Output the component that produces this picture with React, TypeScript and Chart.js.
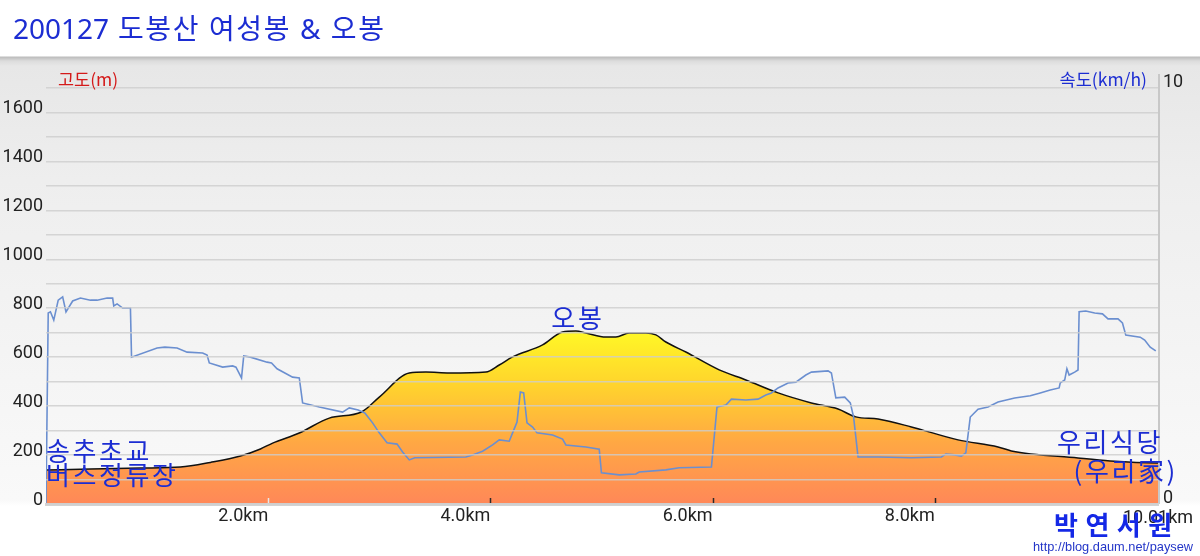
import React, { useEffect, useRef } from 'react';
import { Chart, registerables } from 'chart.js';

Chart.register(...registerables);

// ---- data ----
const TITLE = '200127 도봉산 여성봉 & 오봉';
const ELEV_TITLE = '고도(m)';
const SPEED_TITLE = '속도(km/h)';

const elevKm = [0.0, 0.4, 0.85, 1.21, 1.48, 1.75, 1.93, 2.04, 2.28, 2.55, 2.84, 3.0, 3.27, 3.42, 3.63, 3.96, 4.08, 4.2, 4.47, 4.65, 4.77, 4.86, 5.04, 5.13, 5.25, 5.4, 5.49, 5.58, 5.76, 6.06, 6.3, 6.59, 6.89, 7.13, 7.29, 7.49, 7.79, 8.21, 8.57, 8.69, 9.29, 9.58, 9.99, 10.01];
const elevM = [139, 143, 147, 151, 170, 196, 225, 249, 290, 351, 376, 437, 535, 539, 535, 539, 568, 601, 650, 703, 707, 699, 682, 682, 699, 699, 691, 662, 621, 548, 507, 454, 413, 388, 356, 347, 315, 262, 233, 217, 188, 176, 168, 168];

const speedKm = [0.0, 0.02, 0.04, 0.07, 0.11, 0.15, 0.18, 0.24, 0.31, 0.4, 0.46, 0.55, 0.6, 0.61, 0.64, 0.69, 0.76, 0.77, 1.0, 1.07, 1.18, 1.27, 1.41, 1.45, 1.47, 1.59, 1.68, 1.71, 1.76, 1.78, 1.84, 1.99, 2.03, 2.08, 2.22, 2.28, 2.31, 2.46, 2.67, 2.73, 2.81, 2.87, 2.94, 3.0, 3.07, 3.16, 3.21, 3.27, 3.32, 3.78, 3.84, 3.93, 4.02, 4.08, 4.17, 4.2, 4.24, 4.27, 4.3, 4.33, 4.38, 4.42, 4.56, 4.65, 4.68, 4.86, 4.98, 5.0, 5.16, 5.31, 5.34, 5.58, 5.7, 5.99, 6.04, 6.12, 6.17, 6.3, 6.41, 6.48, 6.53, 6.59, 6.68, 6.75, 6.84, 6.89, 7.04, 7.07, 7.11, 7.19, 7.24, 7.27, 7.31, 7.49, 7.79, 8.06, 8.1, 8.18, 8.24, 8.28, 8.32, 8.39, 8.48, 8.57, 8.72, 8.86, 8.95, 9.04, 9.12, 9.13, 9.17, 9.19, 9.21, 9.26, 9.29, 9.3, 9.36, 9.44, 9.51, 9.56, 9.65, 9.69, 9.72, 9.85, 9.89, 9.94, 9.99];
const speedKmh = [0.0, 4.59, 4.62, 4.42, 4.9, 4.98, 4.62, 4.88, 4.95, 4.9, 4.9, 4.95, 4.95, 4.76, 4.81, 4.71, 4.71, 3.53, 3.75, 3.77, 3.75, 3.65, 3.63, 3.58, 3.39, 3.29, 3.32, 3.29, 3.03, 3.56, 3.53, 3.41, 3.39, 3.25, 3.05, 3.03, 2.43, 2.33, 2.21, 2.31, 2.26, 2.19, 1.95, 1.71, 1.47, 1.44, 1.25, 1.06, 1.11, 1.13, 1.18, 1.27, 1.42, 1.54, 1.51, 1.71, 1.97, 2.69, 2.67, 1.95, 1.85, 1.71, 1.66, 1.56, 1.42, 1.37, 1.32, 0.75, 0.7, 0.72, 0.77, 0.82, 0.87, 0.89, 2.33, 2.38, 2.52, 2.5, 2.52, 2.62, 2.67, 2.79, 2.91, 2.93, 3.1, 3.17, 3.2, 3.15, 2.55, 2.57, 2.43, 2.09, 1.13, 1.13, 1.11, 1.13, 1.2, 1.18, 1.15, 1.23, 2.09, 2.28, 2.33, 2.45, 2.55, 2.6, 2.67, 2.74, 2.79, 2.91, 2.98, 3.25, 3.1, 3.17, 3.22, 4.62, 4.64, 4.59, 4.57, 4.45, 4.45, 4.35, 4.06, 4.01, 3.94, 3.77, 3.68];

const xTickKm = [2, 4, 6, 8];
const xEndKm = 10.01;
const elevGridM = [0, 100, 200, 300, 400, 500, 600, 700, 800, 900, 1000, 1100, 1200, 1300, 1400, 1500, 1600, 1700];
const elevLabelM = [0, 200, 400, 600, 800, 1000, 1200, 1400, 1600];
const speedTicks = [0, 10];

const startPlace = ['송추초교', '버스정류장'];
const peakPlace = '오봉';
const endPlace = ['우리식당', '(우리家)'];
const WATERMARK = '박 연 서 원';
const WATERMARK_URL = 'http://blog.daum.net/paysew';

const KFONT = '"Noto Sans CJK KR", "Noto Sans", sans-serif';
const BLUE = '#1c2dd2';

const decor = {
  id: 'decor',
  afterDatasetsDraw(chart: any) {
    const ctx = chart.ctx;
    const ca = chart.chartArea;
    const xs = chart.scales.x;
    ctx.save();
    ctx.strokeStyle = '#c8c8c8';
    ctx.lineWidth = 2;
    ctx.beginPath();
    ctx.moveTo(ca.right + 1, ca.top - 14);
    ctx.lineTo(ca.right + 1, ca.bottom);
    ctx.stroke();
    xTickKm.forEach((v, i) => {
      const px = Math.round(xs.getPixelForValue(v)) + 0.5;
      ctx.strokeStyle = i === 0 ? '#e9e9e9' : '#2a2a2a';
      ctx.lineWidth = 1.5;
      ctx.beginPath();
      ctx.moveTo(px, ca.bottom - 6);
      ctx.lineTo(px, ca.bottom);
      ctx.stroke();
    });
    ctx.restore();
  },
  afterDraw(chart: any) {
    const ctx = chart.ctx;
    const ca = chart.chartArea;
    const xs = chart.scales.x;
    ctx.save();
    ctx.textBaseline = 'alphabetic';
    // title
    ctx.fillStyle = BLUE;
    ctx.textAlign = 'left';
    ctx.font = '28px "Noto Sans", "Noto Sans CJK KR", sans-serif';
    const cut = TITLE.indexOf(' ');
    const head = TITLE.slice(0, cut);
    ctx.fillText(head, 13, 39);
    const hw = ctx.measureText(head).width;
    ctx.letterSpacing = '1.6px';
    ctx.fillText(TITLE.slice(cut), 13 + hw, 39);
    ctx.letterSpacing = '0px';
    // axis titles
    ctx.font = '17.5px ' + KFONT;
    ctx.fillStyle = '#d41a1a';
    ctx.fillText(ELEV_TITLE, 58, 86);
    ctx.fillStyle = BLUE;
    ctx.textAlign = 'right';
    ctx.fillText(SPEED_TITLE, 1147, 86);
    // last x label
    ctx.fillStyle = '#222';
    ctx.textAlign = 'center';
    ctx.font = '18px Roboto';
    ctx.fillText(xEndKm.toFixed(2) + 'km', xs.getPixelForValue(xEndKm), 523);
    // place annotations
    ctx.fillStyle = BLUE;
    ctx.font = '26px ' + KFONT;
    ctx.letterSpacing = '2.6px';
    ctx.textAlign = 'left';
    ctx.fillText(startPlace[0], ca.left, 461);
    ctx.fillText(startPlace[1], ca.left, 485);
    const peakIdx = elevM.indexOf(Math.max(...elevM));
    ctx.textAlign = 'center';
    ctx.fillText(peakPlace, xs.getPixelForValue(elevKm[peakIdx]) + 2, 328);
    ctx.textAlign = 'right';
    ctx.fillText(endPlace[0], ca.right + 5, 452);
    ctx.fillText(endPlace[1], ca.right + 20, 481);
    // watermark
    ctx.textAlign = 'left';
    ctx.letterSpacing = '0.8px';
    ctx.fillStyle = '#1428e6';
    ctx.font = 'bold 26px ' + KFONT;
    ctx.fillText(WATERMARK, 1054, 535);
    ctx.letterSpacing = '0px';
    ctx.fillStyle = '#2436c8';
    ctx.font = '12.8px "Liberation Sans", sans-serif';
    ctx.fillText(WATERMARK_URL, 1033, 551);
    ctx.restore();
  },
};

export default function App() {
  const ref = useRef<HTMLCanvasElement>(null);
  useEffect(() => {
    document.body.style.margin = '0';
    const elevData = elevKm.map((k, i) => ({ x: k, y: elevM[i] }));
    const speedData = speedKm.map((k, i) => ({ x: k, y: speedKmh[i] }));
    const peak = Math.max(...elevM);
    const chart = new Chart(ref.current as HTMLCanvasElement, {
      type: 'line',
      data: {
        datasets: [
          {
            label: '속도',
            data: speedData,
            yAxisID: 'y2',
            borderColor: '#6b8fd0',
            borderWidth: 1.6,
            pointRadius: 0,
            fill: false,
            tension: 0,
          },
          {
            label: '고도',
            data: elevData,
            yAxisID: 'y',
            borderColor: '#111',
            borderWidth: 1.5,
            pointRadius: 0,
            cubicInterpolationMode: 'monotone',
            fill: 'start',
            backgroundColor: (c: any) => {
              const ch = c.chart;
              const ca = ch.chartArea;
              if (!ca) return '#ffb040';
              const ys = ch.scales.y;
              const g = ch.ctx.createLinearGradient(0, ys.getPixelForValue(peak), 0, ys.getPixelForValue(0));
              g.addColorStop(0, '#fff826');
              g.addColorStop(0.3, '#ffd52c');
              g.addColorStop(0.65, '#ffa744');
              g.addColorStop(1, '#ff8858');
              return g;
            },
          },
        ],
      },
      options: {
        responsive: false,
        animation: false,
        layout: { padding: { top: 88, left: 0, right: 0, bottom: 0 } },
        plugins: { legend: { display: false }, tooltip: { enabled: false }, title: { display: false } },
        scales: {
          x: {
            type: 'linear',
            min: 0,
            max: xEndKm,
            afterBuildTicks: (s: any) => { s.ticks = xTickKm.map((v) => ({ value: v })); },
            afterFit: (s: any) => { s.height = 52; },
            grid: { display: false, drawTicks: false },
            border: { display: true, color: '#d3d3d3', width: 3, z: 1 },
            ticks: {
              align: 'end',
              padding: 2,
              color: '#222',
              font: { family: 'Roboto', size: 18 },
              maxRotation: 0,
              autoSkip: false,
              callback: (v: any) => Number(v).toFixed(1) + 'km',
            },
          },
          y: {
            position: 'left',
            min: 0,
            max: 1700,
            afterBuildTicks: (s: any) => { s.ticks = elevGridM.map((v) => ({ value: v })); },
            afterFit: (s: any) => { s.width = 46; },
            grid: { color: 'rgba(205,205,205,0.8)', lineWidth: 1.5, drawTicks: false, z: 1 },
            border: { display: false },
            ticks: {
              align: 'end',
              padding: 3,
              labelOffset: 5,
              color: '#222',
              font: { family: 'Roboto', size: 18 },
              autoSkip: false,
              callback: (v: any) => (elevLabelM.includes(Number(v)) ? String(v) : ''),
            },
          },
          y2: {
            position: 'right',
            min: 0,
            max: 10,
            afterBuildTicks: (s: any) => { s.ticks = speedTicks.map((v) => ({ value: v })); },
            afterFit: (s: any) => { s.width = 42; },
            grid: { display: false, drawTicks: false },
            border: { display: false },
            ticks: {
              align: 'end',
              padding: 5,
              labelOffset: 3,
              color: '#222',
              font: { family: 'Roboto', size: 18 },
              autoSkip: false,
              callback: (v: any) => String(v),
            },
          },
        },
      },
      plugins: [decor],
    } as any);
    return () => chart.destroy();
  }, []);
  return (
    <div
      style={{
        position: 'absolute',
        left: 0,
        top: 0,
        width: 1200,
        height: 556,
        background:
          'linear-gradient(to bottom, #ffffff 0px, #ffffff 56px, #bcbcbc 57px, #dcdcdc 61px, #e7e7e7 66px, #eeeeee 180px, #f4f4f4 350px, #f9f9f9 500px, #ffffff 506px, #ffffff 556px)',
      }}
    >
      <canvas ref={ref} width={1200} height={556} />
    </div>
  );
}
